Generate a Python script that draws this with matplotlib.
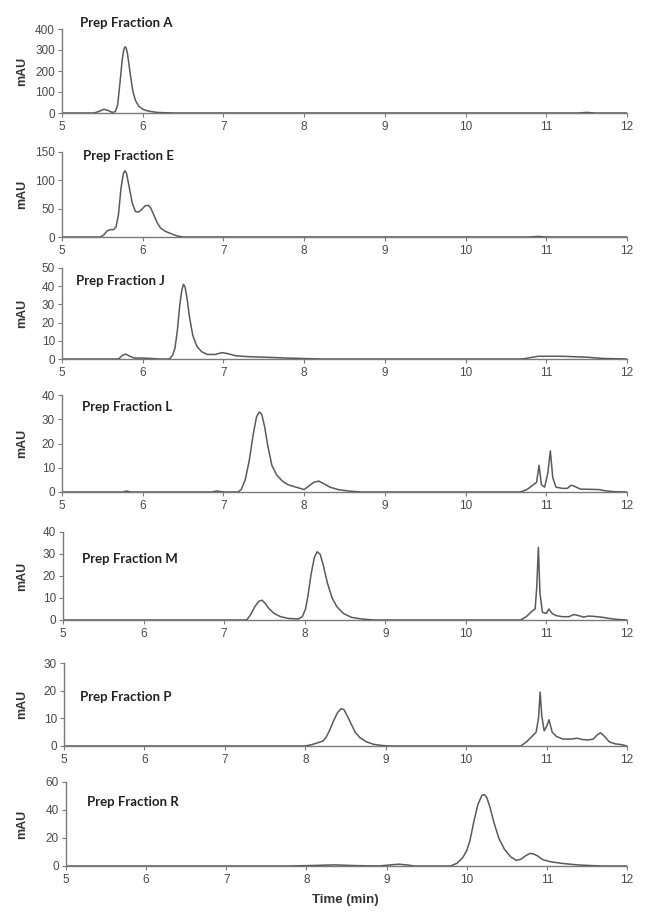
import matplotlib
matplotlib.use('Agg')
import matplotlib.pyplot as plt

plt.rcParams['font.family'] = ['Liberation Sans', 'DejaVu Sans']

# chromatogram traces: time (min), absorbance (mAU)
t_A = [5.0, 5.40, 5.46, 5.52, 5.57, 5.62, 5.66, 5.69, 5.72, 5.745, 5.765, 5.78, 5.795, 5.81,
       5.83, 5.855, 5.88, 5.91, 5.95, 6.0, 6.05, 6.1, 6.18, 6.28, 6.4, 11.4, 11.5, 11.6, 12.0]
mau_A = [0, 0, 8, 18, 12, 3, 6, 40, 150, 250, 300, 315, 310, 285,
         230, 160, 100, 60, 33, 18, 11, 7, 3, 1, 0, 0, 3, 0, 0]

t_E = [5.0, 5.48, 5.52, 5.56, 5.60, 5.64, 5.67, 5.70, 5.73, 5.76, 5.78, 5.80, 5.83, 5.87, 5.91,
       5.95, 5.99, 6.03, 6.07, 6.10, 6.14, 6.18, 6.22, 6.28, 6.35, 6.42, 6.50,
       10.8, 10.9, 11.0, 12.0]
mau_E = [0, 0, 4, 11, 13, 13, 18, 40, 85, 112, 117, 112, 90, 60, 45,
         44, 49, 55, 56, 51, 38, 25, 16, 10, 6, 2, 0,
         0, 1, 0, 0]

t_J = [5.0, 5.70, 5.75, 5.79, 5.84, 5.90, 6.0, 6.1, 6.2, 6.33, 6.37, 6.40, 6.43, 6.46, 6.485,
       6.505, 6.525, 6.55, 6.58, 6.62, 6.67, 6.73, 6.80, 6.90, 6.98, 7.05, 7.15, 7.3, 7.5, 7.8,
       8.2, 10.7, 10.9, 11.2, 11.5, 11.7, 12.0]
mau_J = [0, 0, 2, 2.7, 1.5, 0.5, 0.5, 0.3, 0, 0, 2, 6, 16, 30, 38,
         41, 39.5, 33, 23, 13, 7, 4, 2.5, 2.5, 3.5, 3, 1.8, 1.3, 1, 0.5,
         0, 0, 1.5, 1.5, 1, 0.3, 0]

t_L = [5.0, 5.75, 5.80, 5.85, 6.85, 6.92, 7.0, 7.18, 7.22, 7.27, 7.32, 7.37, 7.41, 7.445, 7.475,
       7.51, 7.55, 7.60, 7.66, 7.73, 7.80, 7.90, 8.00, 8.06, 8.12, 8.18, 8.24, 8.32, 8.42, 8.55,
       8.70, 10.68, 10.76, 10.84, 10.88, 10.91, 10.94, 10.98, 11.02, 11.05, 11.08, 11.12, 11.20,
       11.26, 11.31, 11.36, 11.42, 11.55, 11.65, 11.75, 11.85, 12.0]
mau_L = [0, 0, 0.4, 0, 0, 0.4, 0, 0, 1, 5, 13, 24, 31, 33, 32,
         27, 19, 11, 7, 4.5, 3, 2, 1, 2.5, 4, 4.5, 3.5, 2, 1, 0.4,
         0, 0, 1, 3, 4, 11, 3, 2, 8, 17, 6, 2, 1.5,
         1.5, 2.8, 2.2, 1.2, 1.1, 1.0, 0.4, 0.1, 0]

t_M = [5.0, 7.28, 7.33, 7.38, 7.43, 7.47, 7.51, 7.56, 7.62, 7.70, 7.80, 7.92, 7.97, 8.01, 8.04,
       8.08, 8.12, 8.155, 8.19, 8.23, 8.28, 8.34, 8.40, 8.48, 8.58, 8.70, 8.85,
       10.68, 10.75, 10.82, 10.86, 10.88, 10.90, 10.92, 10.95, 11.00, 11.03, 11.07, 11.12, 11.20,
       11.28, 11.34, 11.40, 11.46, 11.52, 11.60, 11.70, 11.80, 11.90, 12.0]
mau_M = [0, 0, 2.5, 6, 8.5, 9, 7.5, 5, 3, 1.5, 0.7, 0.5, 1.5, 5, 11,
         21, 28.5, 31, 30, 25, 17, 10, 6, 3, 1.2, 0.5, 0,
         0, 1.5, 4, 5, 15, 33, 12, 3.5, 3, 5, 3, 2, 1.5,
         1.5, 2.5, 2, 1.3, 1.8, 1.6, 1.2, 0.6, 0.2, 0]

t_P = [5.0, 8.0, 8.08, 8.16, 8.22, 8.26, 8.30, 8.35, 8.40, 8.445, 8.48, 8.52, 8.57, 8.62, 8.68,
       8.76, 8.85, 8.95, 9.05, 10.68, 10.75, 10.82, 10.87, 10.90, 10.92, 10.94, 10.97, 11.00,
       11.03, 11.07, 11.12, 11.20, 11.30, 11.38, 11.45, 11.52, 11.58, 11.63, 11.67, 11.72, 11.78,
       11.85, 11.93, 12.0]
mau_P = [0, 0, 0.5, 1.2, 1.8, 3.2, 5.5, 9, 12, 13.5, 13.2, 11, 8, 5, 3,
         1.5, 0.6, 0.2, 0, 0, 1.5, 3.5, 5, 10, 19.5, 11, 5.5, 7,
         9.5, 5, 3.5, 2.5, 2.5, 2.8, 2.3, 2.2, 2.5, 4, 4.8, 3.5, 1.5,
         0.8, 0.5, 0]

t_R = [5.0, 7.8, 8.1, 8.35, 8.6, 8.9, 9.05, 9.15, 9.25, 9.35, 9.80, 9.88, 9.95, 10.0, 10.04,
       10.09, 10.14, 10.19, 10.22, 10.25, 10.29, 10.34, 10.40, 10.47, 10.55, 10.62, 10.68, 10.74,
       10.79, 10.84, 10.89, 10.95, 11.05, 11.2, 11.4, 11.6, 11.7, 12.0]
mau_R = [0, 0, 0.4, 0.8, 0.3, 0, 0.8, 1.3, 0.8, 0, 0, 2, 6, 11, 18,
         32, 44, 50.5, 51, 49, 42, 31, 20, 12, 6.5, 4, 5, 7.5,
         9, 8.5, 7, 4.5, 3, 1.8, 0.7, 0.2, 0, 0]

fractions = ['A', 'E', 'J', 'L', 'M', 'P', 'R']
times = [t_A, t_E, t_J, t_L, t_M, t_P, t_R]
signals = [mau_A, mau_E, mau_J, mau_L, mau_M, mau_P, mau_R]
y_max = [400, 150, 50, 40, 40, 30, 60]
y_step = [100, 50, 10, 10, 10, 10, 20]
x_ticks = [5, 6, 7, 8, 9, 10, 11, 12]

# layout in pixels (top, bottom of each axes; title centre and left)
W, H = 647, 916
ax_top = [29, 152, 268, 395, 532, 663, 782]
ax_bot = [113, 237, 359, 492, 620, 746, 866]
ax_left = [62, 62, 62, 62, 63, 64, 66]
ax_right = 627
title_y = [23, 156, 281, 407, 559, 697, 802]
title_x = [80, 83, 76, 82, 82, 80, 87]

grey = '#7a7a7a'
txt = '#4a4a4a'

fig = plt.figure(figsize=(W / 100, H / 100), dpi=100)

for i, frac in enumerate(fractions):
    rect = [ax_left[i] / W, 1 - ax_bot[i] / H,
            (ax_right - ax_left[i]) / W, (ax_bot[i] - ax_top[i]) / H]
    ax = fig.add_axes(rect)
    ax.plot(times[i], signals[i], color='#5a5a5a', lw=1.1, solid_joinstyle='round')
    ax.set_xlim(5, 12)
    ax.set_ylim(0, y_max[i])
    ax.set_xticks(x_ticks)
    ax.set_yticks(list(range(0, y_max[i] + 1, y_step[i])))
    for s in ['top', 'right']:
        ax.spines[s].set_visible(False)
    for s in ['left', 'bottom']:
        ax.spines[s].set_color(grey)
        ax.spines[s].set_linewidth(1.0)
    ax.spines['bottom'].set_zorder(0)
    ax.tick_params(axis='both', colors=grey, labelcolor=txt, labelsize=8.5,
                   length=3, width=0.8, direction='out', pad=2)
    ax.tick_params(axis='x', pad=3)
    ax.set_facecolor('none')
    fig.text(title_x[i] / W, 1 - title_y[i] / H, 'Prep Fraction ' + frac,
             family=['Lato', 'DejaVu Sans'], fontweight='bold', fontsize=9.5,
             color='#222222', ha='left', va='center')
    fig.text(22 / W, 1 - (ax_top[i] + ax_bot[i]) / 2 / H, 'mAU', rotation=90,
             fontweight='bold', fontsize=9, color='#333333',
             ha='center', va='center')

fig.text(345 / W, 1 - 900 / H, 'Time (min)', fontweight='bold', fontsize=9.5,
         color='#333333', ha='center', va='center')

fig.savefig('out.png', dpi=100)
